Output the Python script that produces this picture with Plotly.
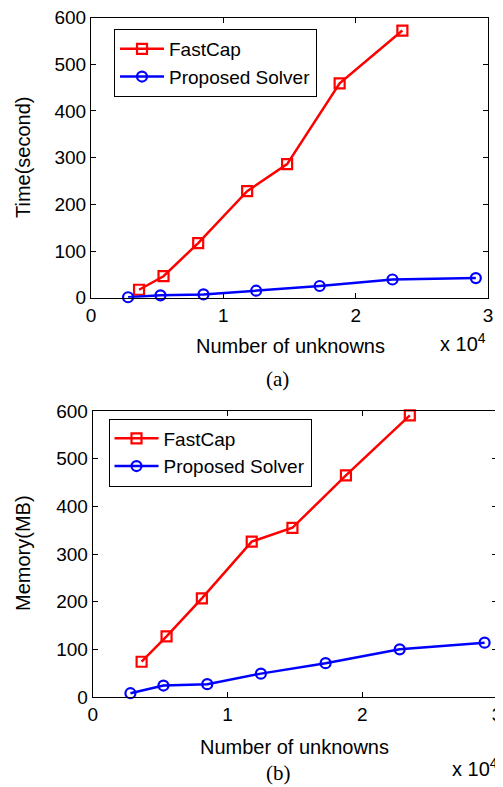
import plotly.graph_objects as go

# ---- data ----
fastcap_x = [3630, 5480, 8100, 11800, 14820, 18790, 23530]
proposed_x = [2800, 5250, 8500, 12480, 17280, 22780, 29080]
time_fastcap = [17, 46, 117, 228, 286, 459, 572]
time_proposed = [1, 5, 7, 15, 25, 39, 42]
memory_fastcap = [74, 127, 207, 326, 355, 465, 591]
memory_proposed = [8, 24, 27, 49, 71, 100, 114]
x_tickvals = [0, 10000, 20000, 30000]
x_ticktext = ["0", "1", "2", "3"]
y_tickvals = [0, 100, 200, 300, 400, 500, 600]

# the page body has an 8px margin, so the figure is placed 8px right/down
OFF = 8
W, H = 503 - OFF, 787 - OFF
def px(x): return (x - OFF) / W
def py(y): return 1 - (y - OFF) / H

FONT = "Liberation Sans, Arial, sans-serif"
SERIF = "Liberation Serif, Times New Roman, serif"
RED = "#ff0000"
BLUE = "#0000ff"

fig = go.Figure()

def add_series(xs, ys, name, color, symbol, xa, ya, legend):
    fig.add_trace(go.Scatter(
        x=xs, y=ys, name=name, mode="lines+markers",
        line=dict(color=color, width=2.5),
        marker=dict(symbol=symbol, size=10, color=color, line=dict(color=color, width=2.2)),
        xaxis=xa, yaxis=ya, legend=legend, cliponaxis=False))

add_series(fastcap_x, time_fastcap, "FastCap", RED, "square-open", "x", "y", "legend")
add_series(proposed_x, time_proposed, "Proposed Solver", BLUE, "circle-open", "x", "y", "legend")
add_series(fastcap_x, memory_fastcap, "FastCap", RED, "square-open", "x2", "y2", "legend2")
add_series(proposed_x, memory_proposed, "Proposed Solver", BLUE, "circle-open", "x2", "y2", "legend2")

axis_common = dict(showline=True, linecolor="black", linewidth=1, mirror="ticks",
                   ticks="inside", ticklen=5, tickcolor="black", showgrid=False,
                   zeroline=False, automargin=False, ticklabeloverflow="allow",
                   tickfont=dict(family=FONT, size=19, color="black"))

legend_common = dict(xanchor="left", yanchor="top", bordercolor="black", borderwidth=1,
                     bgcolor="white", itemwidth=44, tracegroupgap=0,
                     font=dict(family=FONT, size=19, color="black"))

fig.update_layout(
    template="none",
    width=W, height=H, margin=dict(l=0, r=0, t=0, b=0, pad=0, autoexpand=False),
    paper_bgcolor="white", plot_bgcolor="white",
    font=dict(family=FONT, size=19, color="black"),
    xaxis=dict(domain=[px(91), px(488)], anchor="y", range=[0, 30000],
               tickvals=x_tickvals, ticktext=x_ticktext, **axis_common),
    yaxis=dict(domain=[py(297.7), py(17.5)], anchor="x", range=[0, 600],
               tickvals=y_tickvals, **axis_common),
    xaxis2=dict(domain=[px(92.7), px(497)], anchor="y2", range=[0, 30000],
                tickvals=x_tickvals, ticktext=x_ticktext, **axis_common),
    yaxis2=dict(domain=[py(697), py(411)], anchor="x2", range=[0, 600],
                tickvals=y_tickvals, **axis_common),
    legend=dict(x=px(114), y=py(29), **legend_common),
    legend2=dict(x=px(108.5), y=py(418.5), **legend_common),
)

def ann(text, x, y, size=20, family=FONT, angle=0, xanchor="center", yanchor="middle"):
    fig.add_annotation(text=text, x=px(x), y=py(y), xref="paper", yref="paper",
                       showarrow=False, textangle=angle, xanchor=xanchor, yanchor=yanchor,
                       font=dict(family=family, size=size, color="black"))

ann("Time(second)", 23, 157, angle=-90)
ann("Memory(MB)", 23, 553, angle=-90)
ann("Number of unknowns", 290.5, 346)
ann("Number of unknowns", 294, 747)
ann("x 10<sup>4</sup>", 488, 343, xanchor="right")
ann("x 10<sup>4</sup>", 500, 767, xanchor="right")
ann("(a)", 277, 379, size=21, family=SERIF)
ann("(b)", 278, 787, size=21, family=SERIF, yanchor="bottom")

fig.write_html("out.html")
